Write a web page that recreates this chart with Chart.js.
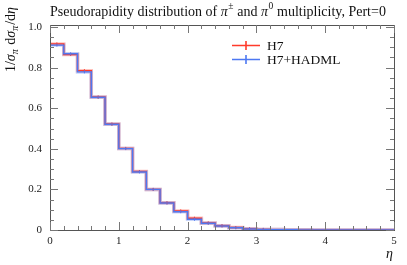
<!DOCTYPE html>
<html><head><meta charset="utf-8">
<script src="https://cdn.jsdelivr.net/npm/chart.js@4/dist/chart.umd.min.js"></script>
<style>html,body{margin:0;padding:0;background:#fff}#wrap{width:407px;height:265px}</style>
</head><body><div id="wrap"><canvas id="c" width="407" height="265"></canvas></div>
<script>
// ---- data ----
const binLowEdges = [0.0,0.2,0.4,0.6,0.8,1.0,1.2,1.4,1.6,1.8,2.0,2.2,2.4,2.6,2.8,3.0,3.2,3.4,3.6,3.8,4.0,4.2,4.4,4.6,4.8];
const binHighEdge = 5.0;
const h7 =    [0.917,0.865,0.785,0.655,0.522,0.402,0.288,0.200,0.134,0.094,0.058,0.035,0.021,0.012,0.006,0.003,0.002,0.0012,0.0008,0.0005,0.0003,0.0002,0.0001,0.0001,0.0001];
const hadml = [0.911,0.868,0.779,0.654,0.521,0.401,0.286,0.200,0.133,0.090,0.053,0.033,0.020,0.011,0.005,0.003,0.002,0.0012,0.0008,0.0005,0.0003,0.0002,0.0001,0.0001,0.0001];
const xTickLabels = [0,1,2,3,4,5];
const yTickLabels = [0,0.2,0.4,0.6,0.8,1];
const seriesNames = ['H7','H7+HADML'];
const titleParts = [['Pseudorapidity distribution of ',''],['π','i'],['±','sup'],[' and ',''],['π','i'],['0','sup'],[' multiplicity, Pert=0','']];

const RED = '#ff3b2b', BLUE = '#4d78f2';
const FONT = '"Liberation Serif", "DejaVu Serif", serif';

function stepData(vals){
  const d = binLowEdges.map((x,i)=>({x:x,y:vals[i]}));
  d.push({x:binHighEdge,y:vals[vals.length-1]});
  return d;
}
function centers(vals){
  return binLowEdges.slice(0,16).map((x,i)=>({x:x+0.1,y:vals[i]}));
}

const framePlugin = {
  id:'frame',
  afterDraw(chart){
    const ctx = chart.ctx, a = chart.chartArea;
    const xs = chart.scales.x, ys = chart.scales.y;
    ctx.save();
    ctx.strokeStyle = '#555'; ctx.lineWidth = 1;
    ctx.strokeRect(Math.round(a.left)+0.5, Math.round(a.top)+0.5, Math.round(a.right-a.left), Math.round(a.bottom-a.top));
    ctx.strokeStyle = '#777';
    for(let k=0;k<=25;k++){
      const v = k*0.2; const px = Math.round(xs.getPixelForValue(v))+0.5;
      const L = (k%5===0)?8:4;
      ctx.beginPath();
      ctx.moveTo(px,a.bottom); ctx.lineTo(px,a.bottom-L);
      ctx.moveTo(px,a.top); ctx.lineTo(px,a.top+L);
      ctx.stroke();
    }
    for(let k=0;k<=20;k++){
      const v = k*0.05; const py = Math.round(ys.getPixelForValue(v))+0.5;
      const L = (k%4===0)?8:4;
      ctx.beginPath();
      ctx.moveTo(a.left,py); ctx.lineTo(a.left+L,py);
      ctx.moveTo(a.right,py); ctx.lineTo(a.right-L,py);
      ctx.stroke();
    }
    // title, fitted to the reference span 50..382
    ctx.fillStyle = '#111'; ctx.textBaseline='alphabetic'; ctx.textAlign='left';
    const fs = 14, ss = 9.5;
    let x = 50; const by = 15.5;
    for(const [t,s] of titleParts){
      if(s==='sup'){ ctx.font = ss+'px '+FONT; ctx.fillText(t,x+0.5,by-6.5); x += ctx.measureText(t).width+0.8; }
      else { ctx.font = (s==='i'?'italic ':'')+fs+'px '+FONT; ctx.fillText(t,x,by); x += ctx.measureText(t).width; }
    }
    // y-axis label rotated
    ctx.save();
    ctx.translate(14.5, 7); ctx.rotate(-Math.PI/2);
    const yl = [['1/',''],['σ','i'],['π','sub'],[' d','' ],['σ','i'],['π','sub'],['/d',''],['η','i']];
    const fnt = s => (s==='sub'?'italic 10px ':(s==='i'?'italic 14px ':'14px '))+FONT;
    let tot=0;
    for(const [t,s] of yl){ ctx.font = fnt(s); tot+=ctx.measureText(t).width + (s==='sub'?1:0); }
    let xx = -tot;
    for(const [t,s] of yl){
      ctx.font = fnt(s);
      ctx.fillText(t, xx, s==='sub'?3:0); xx += ctx.measureText(t).width + (s==='sub'?1:0);
    }
    ctx.restore();
    // x label
    ctx.font = 'italic 14px '+FONT; ctx.textAlign='right';
    ctx.fillText('η', 393, 258);
    // legend
    const cols=[RED,BLUE];
    seriesNames.forEach((n,i)=>{
      const yy = 45.5 + i*14;
      ctx.strokeStyle = cols[i]; ctx.lineWidth=1.6;
      ctx.beginPath(); ctx.moveTo(232,yy); ctx.lineTo(260,yy); ctx.moveTo(246,yy-4.5); ctx.lineTo(246,yy+4.5); ctx.stroke();
      ctx.fillStyle='#111'; ctx.textAlign='left'; ctx.font='13.5px '+FONT;
      ctx.fillText(n, 267, yy+4.5);
    });
    ctx.restore();
  }
};

function lineDS(vals,col,w,order,alpha){
  return {type:'line',data:stepData(vals),stepped:'before',borderColor:alpha?col+alpha:col,borderWidth:w,pointRadius:0,fill:false,tension:0,
          borderJoinStyle:'miter',borderCapStyle:'butt',order:order};
}
function errDS(vals,col,order){
  return {type:'scatter',data:centers(vals),pointStyle:'line',rotation:90,pointRadius:1.5,borderColor:col,borderWidth:1,backgroundColor:col,showLine:false,order:order};
}

new Chart(document.getElementById('c'),{
  type:'line',
  data:{datasets:[
    lineDS(h7,RED,3.5,6,'50'),
    lineDS(hadml,BLUE,3.5,5,'50'),
    lineDS(h7,RED,1.4,4),
    lineDS(hadml,BLUE,1.4,3),
    errDS(h7,RED,2),
    errDS(hadml,BLUE,1)
  ]},
  options:{
    responsive:false,animation:false,devicePixelRatio:1,
    layout:{padding:{left:0,right:13,top:25,bottom:0}},
    plugins:{legend:{display:false},title:{display:false},tooltip:{enabled:false}},
    scales:{
      x:{type:'linear',min:0,max:5,
        afterBuildTicks(s){ s.ticks = xTickLabels.map(v=>({value:v})); },
        afterFit(s){ s.height = 35; },
        grid:{display:false,drawTicks:false},border:{display:false},
        ticks:{padding:5,color:'#222',font:{family:FONT,size:11},maxRotation:0,autoSkip:false}},
      y:{type:'linear',min:0,max:1.01,
        afterBuildTicks(s){ s.ticks = yTickLabels.map(v=>({value:v})); },
        afterFit(s){ s.width = 50; },
        grid:{display:false,drawTicks:false},border:{display:false},
        ticks:{padding:8,color:'#222',font:{family:FONT,size:11},autoSkip:false}}
    }
  },
  plugins:[framePlugin]
});
</script></body></html>
